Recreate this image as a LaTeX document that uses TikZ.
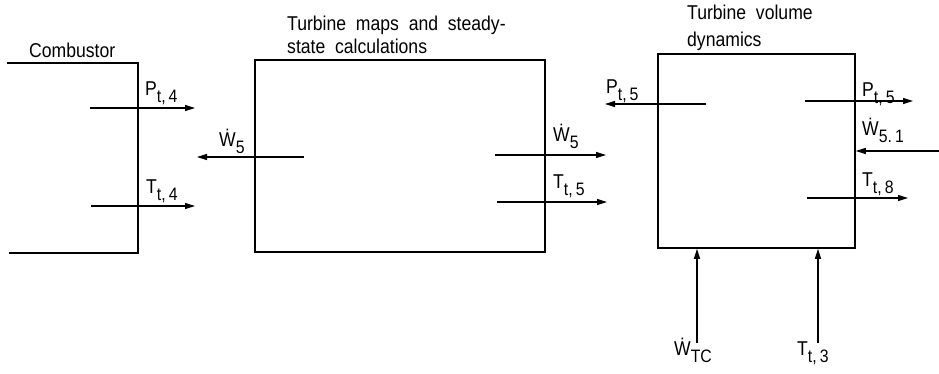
\documentclass[tikz,border=0pt]{standalone}
\usepackage{fontspec}
\setmainfont{Liberation Sans}[FakeStretch=0.88, WordSpace=2]
\usetikzlibrary{arrows.meta,positioning}

\newcommand{\dsub}[1]{\raisebox{-7.5pt}{\fontsize{18}{18}\selectfont #1}}

\begin{document}
\begin{tikzpicture}[
  x=1pt, y=-1pt,
  boxline/.style={line width=1.5pt},
  blockbox/.style={draw, boxline, rectangle, inner sep=0pt},
  flow/.style={line width=1.2pt, -{Triangle[length=10pt,width=6pt]}},
  lbl/.style={inner sep=0pt, font=\fontsize{20}{23}\selectfont},
  title/.style={lbl, align=left}
]
  \useasboundingbox (0,0) rectangle (939,373);

  % combustor (open on the left)
  \coordinate (combTL) at (7,63);
  \coordinate (combBR) at (138,253);
  \coordinate (combBL) at (9,253);
  \draw[boxline] (combTL) -| (combBR) -- (combBL);
  \node[lbl, anchor=base west] (combLbl) at (29,57) {Combustor};

  % turbine maps block
  \node[blockbox, minimum width=290pt, minimum height=192pt] (maps) at (400,156) {};
  \node[title, anchor=base west] (mapsLbl) at (287,53) {Turbine maps and steady-\\state calculations};

  % turbine volume block
  \node[blockbox, minimum width=197pt, minimum height=194pt] (vol) at (756.5,151) {};
  \node[title, font=\fontsize{20}{27}\selectfont, anchor=base west] (volLbl) at (687,46) {Turbine volume\\dynamics};

  % combustor outputs
  \coordinate (pt4a) at (90,108);  \coordinate (pt4b) at (195,108);
  \coordinate (tt4a) at (91,206);  \coordinate (tt4b) at (195,206);
  \draw[flow] (pt4a) -- (pt4b);
  \draw[flow] (tt4a) -- (tt4b);
  \node[lbl, anchor=base west] (pt4) at (145,95) {P\dsub{t,\,4}};
  \node[lbl, anchor=base west] (tt4) at (146,193) {T\dsub{t,\,4}};

  % maps outputs
  \coordinate (w5La) at (304,157); \coordinate (w5Lb) at (197,157);
  \coordinate (w5Ra) at (495,155); \coordinate (w5Rb) at (606,155);
  \coordinate (tt5a) at (497,202); \coordinate (tt5b) at (607,202);
  \draw[flow] (w5La) -- (w5Lb);
  \draw[flow] (w5Ra) -- (w5Rb);
  \draw[flow] (tt5a) -- (tt5b);
  \node[lbl, anchor=base west] (w5L) at (219,146) {\.W\dsub{5}};
  \node[lbl, anchor=base west] (w5R) at (553,141) {\.W\dsub{5}};
  \node[lbl, anchor=base west] (tt5) at (553,188) {T\dsub{t,\,5}};

  % volume outputs and inputs
  \coordinate (pt5La) at (706,104); \coordinate (pt5Lb) at (605,104);
  \coordinate (pt5Ra) at (805,101); \coordinate (pt5Rb) at (913,101);
  \coordinate (w51a)  at (939,151);
  \coordinate (tt8a)  at (807,198); \coordinate (tt8b)  at (908,198);
  \coordinate (wtca)  at (697,343);
  \coordinate (tt3a)  at (818,343);
  \draw[flow] (pt5La) -- (pt5Lb);
  \draw[flow] (pt5Ra) -- (pt5Rb);
  \draw[flow] (w51a) -- (vol.east |- w51a);
  \draw[flow] (tt8a) -- (tt8b);
  \draw[flow] (wtca) -- (vol.south -| wtca);
  \draw[flow] (tt3a) -- (vol.south -| tt3a);
  \node[lbl, anchor=base west] (pt5L) at (606,93) {P\dsub{t,\,5}};
  \node[lbl, anchor=base west] (pt5R) at (862,96) {P\dsub{t,\,5}};
  \node[lbl, anchor=base west] (w51)  at (862,135) {\.W\dsub{5.\,1}};
  \node[lbl, anchor=base west] (tt8)  at (862,186) {T\dsub{t,\,8}};
  \node[lbl, anchor=base west] (wtc)  at (674,355) {\.W\dsub{TC}};
  \node[lbl, anchor=base west] (tt3)  at (797,355) {T\dsub{t,\,3}};
\end{tikzpicture}
\end{document}
